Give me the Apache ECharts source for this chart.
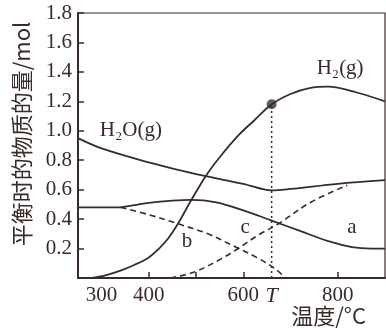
<!DOCTYPE html>
<html>
<head>
<meta charset="utf-8">
<script src="https://cdn.jsdelivr.net/npm/echarts@6/dist/echarts.min.js"></script>
<style>
html, body { margin: 0; padding: 0; background: #fff; }
#chart { width: 386px; height: 330px; }
</style>
</head>
<body>
<div id="chart"></div>
<script>
// 温度 (°C) / 物质的量 (mol)
var h2oData = [[250, 0.95], [300, 0.88], [400, 0.785], [500, 0.705], [600, 0.64], [660, 0.595], [700, 0.605], [800, 0.64], [900, 0.665]];
var h2Data = [[280, 0], [310, 0.02], [340, 0.05], [370, 0.09], [400, 0.14], [420, 0.195], [440, 0.265], [460, 0.36], [490, 0.53], [520, 0.69], [550, 0.82], [590, 0.97], [623, 1.07], [660, 1.18], [700, 1.25], [740, 1.29], [780, 1.30], [840, 1.26], [900, 1.20]];
var aData = [[250, 0.48], [340, 0.48], [360, 0.49], [400, 0.51], [450, 0.525], [490, 0.53], [540, 0.515], [600, 0.46], [660, 0.39], [720, 0.32], [780, 0.25], [830, 0.21], [870, 0.20], [900, 0.20]];
var bData = [[340, 0.48], [400, 0.43], [460, 0.37], [525, 0.30], [584, 0.21], [631, 0.135], [665, 0.068], [690, 0]];
var cData = [[445, 0], [496, 0.04], [553, 0.13], [584, 0.19], [631, 0.29], [675, 0.37], [743, 0.515], [820, 0.63]];
var tValue = 660;
var tPoint = [660, 1.18];
var xLabelValues = [300, 400, 600, 660, 800];
var xTickValues = [400, 500, 600, 800];

var ink = '#3b2a2a';
var serif = '"Liberation Serif", "DejaVu Serif", serif';
var cjk = '"Noto Sans CJK SC", sans-serif';

var chart = echarts.init(document.getElementById('chart'));

function lineSeries(data, dashed) {
    return {
        type: 'line',
        data: data,
        smooth: 0.35,
        symbol: 'none',
        silent: true,
        lineStyle: { color: ink, width: dashed ? 1.6 : 1.8, type: dashed ? [6, 4] : 'solid' }
    };
}

function tag(text, coord) {
    return {
        coord: coord,
        symbolSize: 0,
        label: { show: true, formatter: text, color: ink, fontFamily: serif, fontSize: 21, position: 'inside' }
    };
}

var h2o = lineSeries(h2oData, false);
h2o.markPoint = { silent: true, data: [tag('H₂O(g)', [362, 1.0])] };
var h2 = lineSeries(h2Data, false);
h2.markPoint = { silent: true, data: [tag('H₂(g)', [805, 1.42])] };
var a = lineSeries(aData, false);
a.markPoint = { silent: true, data: [tag('a', [830, 0.34])] };
var b = lineSeries(bData, true);
b.markPoint = { silent: true, data: [tag('b', [481, 0.245])] };
var c = lineSeries(cData, true);
c.markPoint = { silent: true, data: [tag('c', [604, 0.34])] };

chart.setOption({
    animation: false,
    grid: { left: 78, top: 13, right: 1, bottom: 52, show: true, borderColor: ink, borderWidth: 1.2 },
    xAxis: {
        type: 'value', min: 250, max: 900,
        splitLine: { show: false },
        axisLine: { lineStyle: { color: ink, width: 2 } },
        axisTick: { inside: true, length: 6, customValues: xTickValues, lineStyle: { color: ink, width: 1.5 } },
        axisLabel: {
            customValues: xLabelValues,
            color: ink, fontFamily: serif, fontSize: 21, margin: 7,
            formatter: function (v) { return v === tValue ? '{t|T}' : String(v); },
            rich: { t: { fontStyle: 'italic', fontFamily: serif, fontSize: 22, color: ink } }
        }
    },
    yAxis: {
        type: 'value', min: 0, max: 1.8, interval: 0.2,
        splitLine: { show: false },
        axisLine: { show: true, lineStyle: { color: ink, width: 2 } },
        axisTick: { inside: true, length: 6, lineStyle: { color: ink, width: 1.5 } },
        axisLabel: {
            color: ink, fontFamily: serif, fontSize: 21, margin: 6,
            formatter: function (v) { return v === 0 ? '' : v.toFixed(1); }
        }
    },
    graphic: [
        { type: 'text', x: 22, y: 134, rotation: Math.PI / 2,
          style: { text: '平衡时的物质的量/mol', fill: ink, font: '22px ' + cjk, align: 'center', verticalAlign: 'middle' } },
        { type: 'text', right: 20, top: 305,
          style: { text: '温度/°C', fill: ink, font: '22px ' + cjk } }
    ],
    series: [
        h2o, h2, a, b, c,
        {
            type: 'line',
            data: [[tValue, 0], tPoint],
            symbol: 'none',
            silent: true,
            lineStyle: { color: ink, width: 1.5, type: [2, 3] }
        },
        {
            type: 'scatter',
            data: [tPoint],
            symbolSize: 10,
            silent: true,
            itemStyle: { color: '#3a3535' }
        }
    ]
});
</script>
</body>
</html>
